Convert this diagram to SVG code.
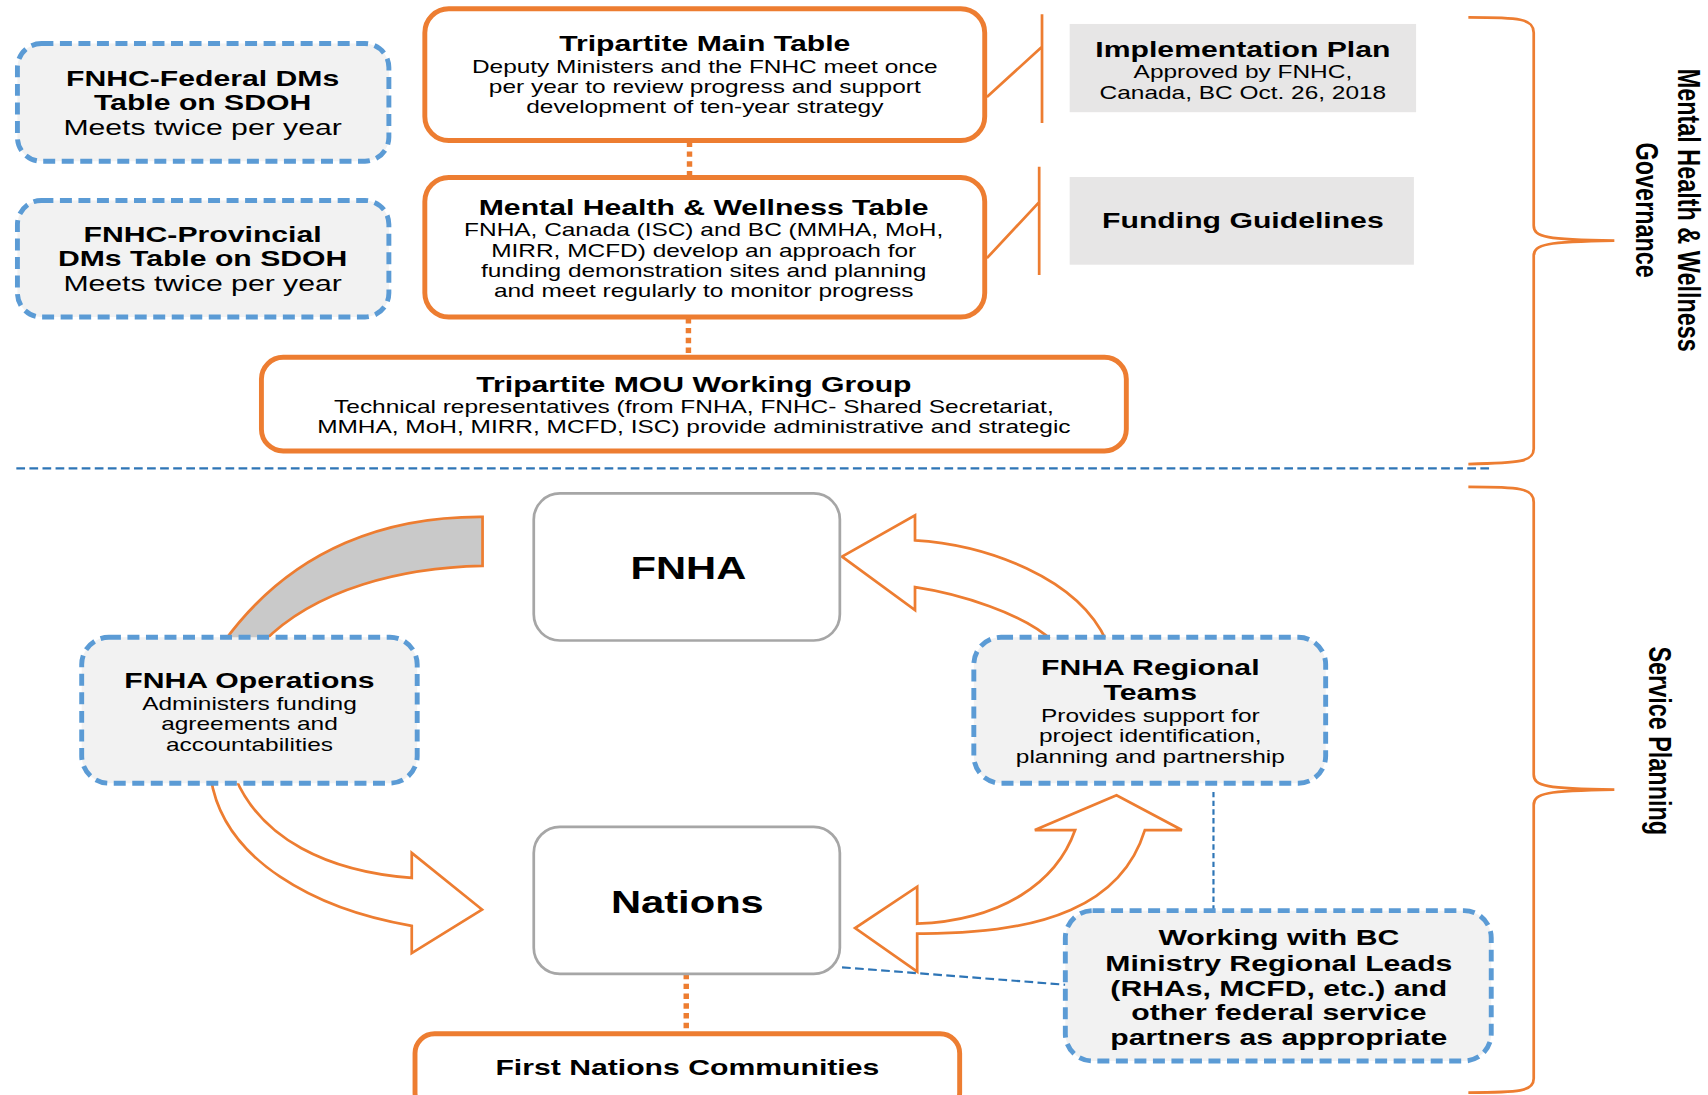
<svg xmlns="http://www.w3.org/2000/svg" width="1708" height="1095" viewBox="0 0 1708 1095">
<style>
.ob{fill:#fff;stroke:#ed7d31;stroke-width:4.5}
.bb{fill:#f2f2f2;stroke:#5b9bd5;stroke-width:4.5;stroke-dasharray:11 6}
.gb{fill:#fff;stroke:#a6a6a6;stroke-width:2.5}
.note{fill:#e7e6e6}
text{font-family:"Liberation Sans",Arial,sans-serif;text-anchor:middle;fill:#000}
.b{font-weight:bold;font-size:21px}
.r{font-size:17px}
.rl{font-size:21px}
.big{font-weight:bold;font-size:29px}
.lo{stroke:#ed7d31;stroke-width:2.5;fill:none}
.dot{stroke:#ed7d31;stroke-width:5;stroke-dasharray:5 4;fill:none}
.db{stroke:#2e75b6;stroke-width:2;stroke-dasharray:8 4;fill:none}
.arr{fill:#fff;stroke:#ed7d31;stroke-width:2.5;stroke-linejoin:miter}
.band{fill:#c9c9c9;stroke:#ed7d31;stroke-width:2.5}
</style>
<rect width="1708" height="1095" fill="#fff"/>
<g transform="scale(1.08929)">
<g id="connectors">
<line class="dot" x1="633" y1="130" x2="633" y2="161"/>
<line class="dot" x1="632" y1="292" x2="632" y2="327"/>
<line class="dot" x1="630" y1="894" x2="630" y2="948"/>
<path class="lo" d="M906,89 L956.6,43 M956.6,13 L956.6,113"/>
<path class="lo" d="M906,237 L954,185.5 M954,153 L954,252.5"/>
<path class="lo" d="M1348,16 C1395,16 1408,17 1408,30 L1408,207 C1408,218 1420,220 1482,221 C1420,222 1408,224 1408,235 L1408,412 C1408,424 1395,425 1348,426"/>
<path class="lo" d="M1348,447 C1395,447 1408,448 1408,461 L1408,711 C1408,722 1420,724 1482,725 C1420,726 1408,728 1408,739 L1408,990 C1408,1002 1395,1003 1348,1003"/>
<line class="db" x1="15" y1="430" x2="1370" y2="430"/>
<path class="band" d="M443,474.5 C360,474 270,500 205,590 L241,590 C290,540 370,521 443,519.5 Z"/>
<path class="arr" d="M193.5,714 C205,790 290,835 378,850 L378,875 L442.5,835 L378,783 L378,806 C300,800 240,770 216,714"/>
<path class="arr" d="M1016,589 C990,530 905,500 840,496 L840,473 L773,511 L840,560 L840,539 C880,545 940,563 967,589"/>
<path class="arr" d="M842,848 L842,814 L785,852 L842,892 L842,857 C960,858 1030,830 1051,762 L1085,762 L1025,730 L950,762 L987,762 C970,810 920,845 842,848 Z"/>
<line class="db" x1="1114" y1="727" x2="1114" y2="836" style="stroke-dasharray:5 3"/>
<line class="db" x1="773" y1="888" x2="978" y2="904"/>
</g>
<g id="fnhc-federal">
<rect class="bb" x="16" y="40" width="341" height="108" rx="22"/>
<g transform="translate(186 0) scale(1.32 1)">
<text class="b" x="0" y="79">FNHC-Federal DMs</text>
<text class="b" x="0" y="101">Table on SDOH</text>
<text class="rl" x="0" y="124">Meets twice per year</text>
</g>
</g>
<g id="fnhc-provincial">
<rect class="bb" x="16" y="184" width="341" height="107" rx="22"/>
<g transform="translate(186 0) scale(1.32 1)">
<text class="b" x="0" y="222">FNHC-Provincial</text>
<text class="b" x="0" y="244">DMs Table on SDOH</text>
<text class="rl" x="0" y="267">Meets twice per year</text>
</g>
</g>
<g id="main-table">
<rect class="ob" x="390" y="8" width="514" height="121" rx="22"/>
<g transform="translate(647 0) scale(1.32 1)">
<text class="b" x="0" y="47">Tripartite Main Table</text>
<text class="r" x="0" y="67">Deputy Ministers and the FNHC meet once</text>
<text class="r" x="0" y="85.5">per year to review progress and support</text>
<text class="r" x="0" y="104">development of ten-year strategy</text>
</g>
</g>
<g id="mh-table">
<rect class="ob" x="390" y="163" width="514" height="128" rx="22"/>
<g transform="translate(646 0) scale(1.32 1)">
<text class="b" x="0" y="197">Mental Health &amp; Wellness Table</text>
<text class="r" x="0" y="217">FNHA, Canada (ISC) and BC (MMHA, MoH,</text>
<text class="r" x="0" y="235.5">MIRR, MCFD) develop an approach for</text>
<text class="r" x="0" y="254">funding demonstration sites and planning</text>
<text class="r" x="0" y="272.5">and meet regularly to monitor progress</text>
</g>
</g>
<g id="mou-group">
<rect class="ob" x="240" y="328" width="794" height="86" rx="20"/>
<g transform="translate(637 0) scale(1.32 1)">
<text class="b" x="0" y="360">Tripartite MOU Working Group</text>
<text class="r" x="0" y="379">Technical representatives (from FNHA, FNHC- Shared Secretariat,</text>
<text class="r" x="0" y="397.5">MMHA, MoH, MIRR, MCFD, ISC) provide administrative and strategic</text>
</g>
</g>
<g id="implementation-plan">
<rect class="note" x="982" y="22" width="318" height="81"/>
<g transform="translate(1141 0) scale(1.32 1)">
<text class="b" x="0" y="52">Implementation Plan</text>
<text class="r" x="0" y="72">Approved by FNHC,</text>
<text class="r" x="0" y="91">Canada, BC Oct. 26, 2018</text>
</g>
</g>
<g id="funding-guidelines">
<rect class="note" x="982" y="162.5" width="316" height="80.5"/>
<g transform="translate(1141 0) scale(1.32 1)">
<text class="b" x="0" y="209">Funding Guidelines</text>
</g>
</g>
<g id="fnha">
<rect class="gb" x="490" y="453" width="281" height="135" rx="24"/>
<g transform="translate(632 0) scale(1.32 1)">
<text class="big" x="0" y="532">FNHA</text>
</g>
</g>
<g id="nations">
<rect class="gb" x="490" y="759" width="281" height="135" rx="24"/>
<g transform="translate(631 0) scale(1.32 1)">
<text class="big" x="0" y="838">Nations</text>
</g>
</g>
<g id="fnha-operations">
<rect class="bb" x="75" y="585" width="308" height="134" rx="25"/>
<g transform="translate(229 0) scale(1.32 1)">
<text class="b" x="0" y="632">FNHA Operations</text>
<text class="r" x="0" y="652">Administers funding</text>
<text class="r" x="0" y="670">agreements and</text>
<text class="r" x="0" y="689">accountabilities</text>
</g>
</g>
<g id="fnha-regional-teams">
<rect class="bb" x="894" y="585" width="323" height="134" rx="25"/>
<g transform="translate(1056 0) scale(1.32 1)">
<text class="b" x="0" y="620">FNHA Regional</text>
<text class="b" x="0" y="643">Teams</text>
<text class="r" x="0" y="663">Provides support for</text>
<text class="r" x="0" y="681">project identification,</text>
<text class="r" x="0" y="700">planning and partnership</text>
</g>
</g>
<g id="working-with-bc">
<rect class="bb" x="978" y="836" width="391" height="138" rx="25"/>
<g transform="translate(1174 0) scale(1.32 1)">
<text class="b" x="0" y="868">Working with BC</text>
<text class="b" x="0" y="891">Ministry Regional Leads</text>
<text class="b" x="0" y="914">(RHAs, MCFD, etc.) and</text>
<text class="b" x="0" y="936">other federal service</text>
<text class="b" x="0" y="959">partners as appropriate</text>
</g>
</g>
<g id="first-nations-communities">
<rect class="ob" x="381" y="949" width="500" height="72" rx="18"/>
<g transform="translate(631 0) scale(1.32 1)">
<text class="b" x="0" y="987">First Nations Communities</text>
</g>
</g>
<g id="label-governance">
<g transform="translate(1540 193) rotate(90) scale(1 1.32)">
<text class="b" x="0" y="0" style="font-size:21.5px">Mental Health &amp; Wellness</text>
</g>
<g transform="translate(1502 193) rotate(90) scale(1 1.32)">
<text class="b" x="0" y="0" style="font-size:21.5px">Governance</text>
</g>
</g>
<g id="label-service-planning">
<g transform="translate(1514 680) rotate(90) scale(1 1.32)">
<text class="b" x="0" y="0" style="font-size:21.5px">Service Planning</text>
</g>
</g>
</g>
</svg>
